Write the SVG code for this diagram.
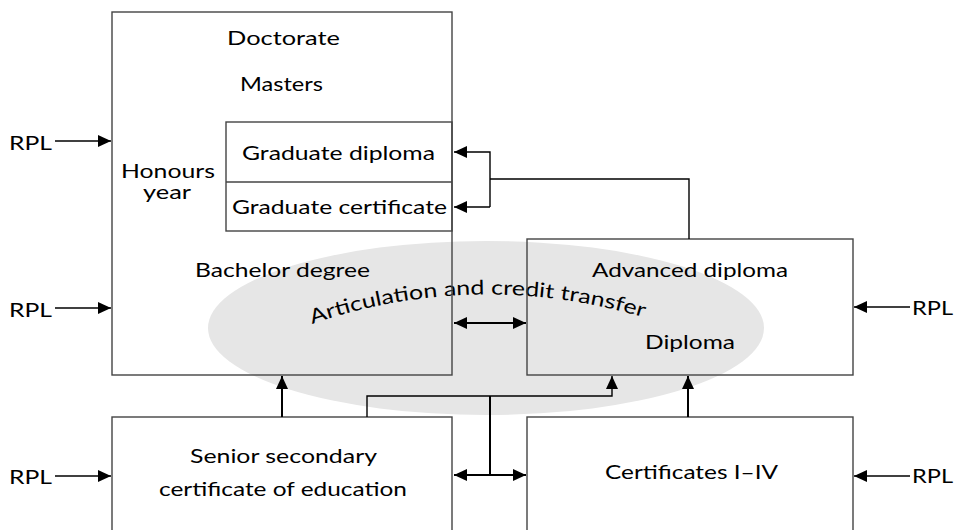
<svg xmlns="http://www.w3.org/2000/svg" width="959" height="530" viewBox="0 0 959 530">
  <style>
    text { font-family: Lato, "Liberation Sans", sans-serif; font-size: 20px; fill: #000; }
    .box { fill: none; stroke: #444; stroke-width: 1.4; }
    .line { fill: none; stroke: #000; stroke-width: 1.4; }
    .thick { fill: none; stroke: #000; stroke-width: 2; }
  </style>
  <defs>
    <marker id="arrow" markerUnits="userSpaceOnUse" markerWidth="14" markerHeight="12" refX="13" refY="6" orient="auto">
      <path d="M0,0 L13,6 L0,12 z" fill="#000"/>
    </marker>
    <marker id="arrowStart" markerUnits="userSpaceOnUse" markerWidth="14" markerHeight="12" refX="0" refY="6" orient="auto">
      <path d="M13,0 L0,6 L13,12 z" fill="#000"/>
    </marker>
    <path id="arcPath" d="M 312 324 A 540 540 0 0 1 652 320"/>
  </defs>
  <rect width="959" height="530" fill="#fff"/>

  <!-- shaded articulation zone -->
  <g id="articulation">
    <ellipse cx="486" cy="328" rx="278" ry="87" fill="#e6e6e6"/>
    <text><textPath href="#arcPath" textLength="337" lengthAdjust="spacingAndGlyphs">Articulation and credit transfer</textPath></text>
  </g>

  <!-- higher education block -->
  <g id="higher-ed">
    <rect class="box" x="112" y="12" width="340" height="363"/>
    <text x="227" y="45" textLength="113" lengthAdjust="spacingAndGlyphs">Doctorate</text>
    <text x="240" y="91" textLength="83" lengthAdjust="spacingAndGlyphs">Masters</text>
    <text x="121" y="178" textLength="94" lengthAdjust="spacingAndGlyphs">Honours</text>
    <text x="143" y="199" textLength="48" lengthAdjust="spacingAndGlyphs">year</text>
    <text x="195" y="277" textLength="175" lengthAdjust="spacingAndGlyphs">Bachelor degree</text>
  </g>
  <g id="graduate">
    <rect class="box" x="226" y="122" width="226" height="109"/>
    <line class="box" x1="226" y1="182" x2="452" y2="182"/>
    <text x="242" y="160" textLength="193" lengthAdjust="spacingAndGlyphs">Graduate diploma</text>
    <text x="232" y="214" textLength="215" lengthAdjust="spacingAndGlyphs">Graduate certificate</text>
  </g>

  <!-- vocational block -->
  <g id="vocational">
    <rect class="box" x="527" y="239" width="326" height="136"/>
    <text x="592" y="277" textLength="196" lengthAdjust="spacingAndGlyphs">Advanced diploma</text>
    <text x="645" y="349" textLength="90" lengthAdjust="spacingAndGlyphs">Diploma</text>
  </g>

  <!-- school block -->
  <g id="senior-secondary">
    <rect class="box" x="112" y="417" width="340" height="130"/>
    <text x="190" y="463" textLength="187" lengthAdjust="spacingAndGlyphs">Senior secondary</text>
    <text x="159" y="496" textLength="248" lengthAdjust="spacingAndGlyphs">certificate of education</text>
  </g>

  <g id="certificates">
    <rect class="box" x="527" y="417" width="326" height="130"/>
    <text x="605" y="479" textLength="173" lengthAdjust="spacingAndGlyphs">Certificates I–IV</text>
  </g>

  <!-- RPL entry labels -->
  <g id="rpl-labels">
    <text x="9" y="150" textLength="43" lengthAdjust="spacingAndGlyphs">RPL</text>
    <text x="9" y="317" textLength="43" lengthAdjust="spacingAndGlyphs">RPL</text>
    <text x="9" y="484" textLength="43" lengthAdjust="spacingAndGlyphs">RPL</text>
    <text x="912" y="315" textLength="41" lengthAdjust="spacingAndGlyphs">RPL</text>
    <text x="912" y="483" textLength="41" lengthAdjust="spacingAndGlyphs">RPL</text>
  </g>

  <g id="connectors">
    <!-- RPL arrows -->
    <line class="line" x1="55" y1="141" x2="111" y2="141" marker-end="url(#arrow)"/>
    <line class="line" x1="55" y1="308" x2="111" y2="308" marker-end="url(#arrow)"/>
    <line class="line" x1="55" y1="476" x2="111" y2="476" marker-end="url(#arrow)"/>
    <line class="line" x1="910" y1="307" x2="854" y2="307" marker-end="url(#arrow)"/>
    <line class="line" x1="910" y1="476" x2="854" y2="476" marker-end="url(#arrow)"/>

    <!-- advanced diploma to graduate awards -->
    <polyline class="line" points="689,239 689,179 490,179"/>
    <polyline class="line" points="490,207 490,152 454,152" marker-end="url(#arrow)"/>
    <polyline class="line" points="490,207 454,207" marker-end="url(#arrow)"/>

    <!-- articulation between sectors -->
    <line class="thick" x1="454" y1="323" x2="526" y2="323" marker-start="url(#arrowStart)" marker-end="url(#arrow)"/>
    <line class="thick" x1="454" y1="475" x2="526" y2="475" marker-start="url(#arrowStart)" marker-end="url(#arrow)"/>
    <line class="thick" x1="490" y1="396" x2="490" y2="475"/>

    <!-- progression upward -->
    <line class="thick" x1="282" y1="417" x2="282" y2="376" marker-end="url(#arrow)"/>
    <line class="thick" x1="688" y1="417" x2="688" y2="376" marker-end="url(#arrow)"/>
    <polyline class="line" points="367,417 367,396 612,396 612,376" marker-end="url(#arrow)"/>
  </g>
</svg>
